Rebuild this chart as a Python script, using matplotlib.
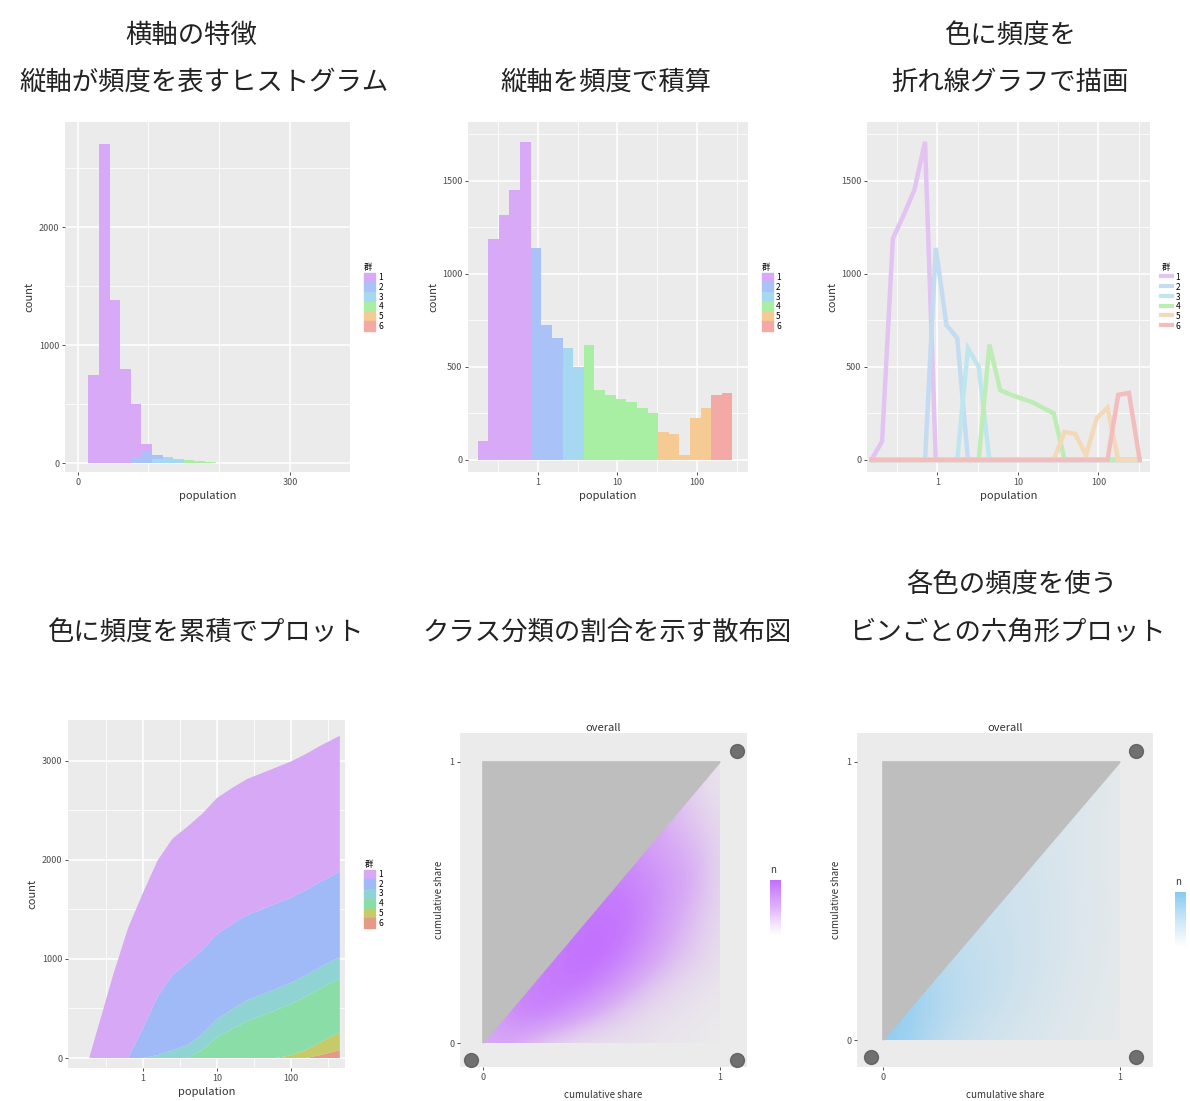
import matplotlib
matplotlib.use("Agg")
import matplotlib.pyplot as plt
import numpy as np
from matplotlib.patches import Patch, Rectangle
from matplotlib.lines import Line2D
from matplotlib.colors import LinearSegmentedColormap
from matplotlib.ticker import FixedLocator

plt.rcParams['font.family'] = ['Noto Sans CJK JP', 'DejaVu Sans']

W, H = 1190, 1101

# ---- data ----
groups = ["1", "2", "3", "4", "5", "6"]

# top-left: linear histogram, stacked by group
lin_edges = [15, 30, 45, 60, 75, 90, 105, 120, 135, 150, 165, 180, 195]
lin_purple = [750, 2700, 1380, 800, 450, 60, 0, 0, 0, 0, 0, 0]
lin_blue = [0, 0, 0, 0, 50, 100, 40, 0, 0, 0, 0, 0]
lin_cyan = [0, 0, 0, 0, 0, 0, 30, 55, 35, 0, 0, 0]
lin_green = [0, 0, 0, 0, 0, 0, 0, 0, 0, 25, 20, 10]
lin_orange = [0] * 12
lin_red = [0] * 12

# top-middle / top-right: log10 bins
log_start, log_width = -0.754, 0.1333
log_counts = [100, 1190, 1315, 1450, 1710, 1140, 725, 655, 600, 500, 620, 375,
              350, 330, 310, 280, 250, 150, 140, 25, 225, 280, 350, 360]
log_group = [0, 0, 0, 0, 0, 1, 1, 1, 2, 2, 3, 3,
             3, 3, 3, 3, 3, 4, 4, 4, 4, 4, 5, 5]

# bottom-left: cumulative counts, stacked
cum_x = [-0.72, -0.4, -0.2, 0, 0.2, 0.4, 0.6, 0.8, 1.0, 1.2, 1.4, 1.6, 1.8,
         2.0, 2.2, 2.4, 2.66]
cum_purple = [10, 840, 1310, 1365, 1375, 1375, 1375, 1375, 1375, 1375, 1375,
              1375, 1375, 1375, 1375, 1375, 1375]
cum_blue = [0, 0, 0, 300, 590, 760, 830, 850, 860, 860, 860, 860, 860, 860,
            860, 860, 860]
cum_cyan = [0, 0, 0, 0, 30, 80, 130, 160, 180, 200, 210, 215, 215, 215, 215,
            215, 215]
cum_green = [0, 0, 0, 0, 0, 0, 0, 80, 210, 290, 370, 425, 485, 515, 540, 545,
             545]
cum_orange = [0] * 13 + [30, 80, 130, 180]
cum_red = [0] * 15 + [30, 80]

# bottom-middle / bottom-right: point density on a 0..1 grid (rows = y)
dens_purple = [
    [0.5, 0.55, 0.35, 0.2, 0.12, 0.1, 0.1, 0.08, 0.05, 0.03, 0.0],
    [0.5, 0.75, 0.9, 0.8, 0.6, 0.4, 0.25, 0.15, 0.1, 0.06, 0.03],
    [0.5, 0.75, 0.85, 0.95, 0.95, 0.8, 0.55, 0.35, 0.2, 0.12, 0.06],
    [0.5, 0.75, 0.85, 0.9, 1.0, 1.0, 0.85, 0.6, 0.4, 0.25, 0.12],
    [0.5, 0.75, 0.85, 0.9, 0.95, 1.0, 0.95, 0.75, 0.5, 0.32, 0.15],
    [0.5, 0.75, 0.85, 0.9, 0.95, 0.9, 0.95, 0.8, 0.6, 0.4, 0.2],
    [0.5, 0.75, 0.85, 0.9, 0.95, 0.9, 0.8, 0.75, 0.6, 0.45, 0.2],
    [0.5, 0.75, 0.85, 0.9, 0.95, 0.9, 0.8, 0.6, 0.5, 0.4, 0.2],
    [0.5, 0.75, 0.85, 0.9, 0.95, 0.9, 0.8, 0.6, 0.4, 0.3, 0.15],
    [0.5, 0.75, 0.85, 0.9, 0.95, 0.9, 0.8, 0.6, 0.4, 0.2, 0.1],
    [0.5, 0.75, 0.85, 0.9, 0.95, 0.9, 0.8, 0.6, 0.4, 0.2, 0.05],
]
dens_blue = [
    [0.9, 0.8, 0.6, 0.45, 0.35, 0.28, 0.22, 0.18, 0.14, 0.1, 0.08],
    [0.9, 0.85, 0.7, 0.55, 0.45, 0.35, 0.28, 0.22, 0.16, 0.12, 0.08],
    [0.9, 0.85, 0.65, 0.55, 0.48, 0.4, 0.32, 0.25, 0.18, 0.13, 0.09],
    [0.9, 0.85, 0.65, 0.5, 0.45, 0.4, 0.33, 0.27, 0.2, 0.14, 0.1],
    [0.9, 0.85, 0.65, 0.5, 0.42, 0.38, 0.33, 0.27, 0.2, 0.15, 0.1],
    [0.9, 0.85, 0.65, 0.5, 0.42, 0.36, 0.32, 0.27, 0.2, 0.15, 0.1],
    [0.9, 0.85, 0.65, 0.5, 0.42, 0.36, 0.3, 0.26, 0.2, 0.14, 0.1],
    [0.9, 0.85, 0.65, 0.5, 0.42, 0.36, 0.3, 0.25, 0.2, 0.14, 0.1],
    [0.9, 0.85, 0.65, 0.5, 0.42, 0.36, 0.3, 0.25, 0.2, 0.14, 0.1],
    [0.9, 0.85, 0.65, 0.5, 0.42, 0.36, 0.3, 0.25, 0.2, 0.15, 0.1],
    [0.9, 0.85, 0.65, 0.5, 0.42, 0.36, 0.3, 0.25, 0.2, 0.15, 0.1],
]
unit = [0, 1]
corner_x = [1.07, -0.05, 1.07]
corner_y = [1.04, -0.06, -0.06]

bar_colors = ["#D7A9F6", "#A9C3F8", "#A6D8F2", "#A9EFA3", "#F5CB93", "#F3AAA6"]
area_colors = ["#D6A8F6", "#A0B9F7", "#8FD3D3", "#8ADDA6", "#C6CA68", "#E59A88"]
line_colors = ["#E2C3F2", "#C4DCF2", "#BFE6EE", "#BDEDB5", "#F4D9B8", "#F2BDBD"]


def box(x0, y0, x1, y1):
    return [x0 / W, 1 - y1 / H, (x1 - x0) / W, (y1 - y0) / H]


def gg(ax):
    ax.set_facecolor('#EBEBEB')
    for s in ax.spines.values():
        s.set_visible(False)
    ax.grid(True, which='major', color='white', lw=1.1)
    ax.grid(True, which='minor', color='white', lw=0.55)
    ax.set_axisbelow(True)
    ax.tick_params(which='major', length=2.5, width=0.6, color='#333333',
                   labelsize=6.5, labelcolor='#4D4D4D', pad=1.5)
    ax.tick_params(which='minor', length=0)


def key_legend(ax, handles, anchor=1.05):
    ax.legend(handles=handles, labels=groups, loc='center left',
              bbox_to_anchor=(anchor, 0.5), frameon=False, fontsize=6,
              title='群', title_fontsize=6, handlelength=1.3, handleheight=1.3,
              labelspacing=0.05, handletextpad=0.4, borderaxespad=0,
              borderpad=0, alignment='left')


def log_ticks(ax):
    ax.xaxis.set_major_locator(FixedLocator([0, 1, 2]))
    ax.set_xticklabels(["1", "10", "100"])
    ax.xaxis.set_minor_locator(FixedLocator([-0.5, 0.5, 1.5, 2.5]))


def title(x, y, s):
    fig.text(x / W, 1 - y / H, s, ha='center', va='center', fontsize=19,
             color='#222222')


fig = plt.figure(figsize=(W / 100, H / 100), dpi=100)

# ---- top-left: histogram, linear axis ----
ax1 = fig.add_axes(box(65, 122, 350, 472))
gg(ax1)
lin_series = [lin_purple, lin_blue, lin_cyan, lin_green, lin_orange, lin_red]
lefts = np.array(lin_edges[:-1])
bottom = np.zeros(len(lefts))
for g in reversed(range(6)):
    vals = np.array(lin_series[g])
    ax1.bar(lefts, vals, width=np.diff(lin_edges), bottom=bottom, align='edge',
            color=bar_colors[g], linewidth=0)
    bottom += vals
ax1.set_xlim(-18, 385)
ax1.set_ylim(-76, 2890)
ax1.xaxis.set_major_locator(FixedLocator([0, 300]))
ax1.xaxis.set_minor_locator(FixedLocator([100, 200]))
ax1.yaxis.set_major_locator(FixedLocator([0, 1000, 2000]))
ax1.yaxis.set_minor_locator(FixedLocator([500, 1500, 2500]))
ax1.set_xlabel("population", fontsize=8, color='#333333', labelpad=3)
ax1.set_ylabel("count", fontsize=8, color='#333333', labelpad=3)
key_legend(ax1, [Patch(color=c) for c in bar_colors])

# ---- top-middle: histogram, log axis ----
edges = log_start + log_width * np.arange(len(log_counts) + 1)
ax2 = fig.add_axes(box(468, 122, 748, 472))
gg(ax2)
ax2.bar(edges[:-1], log_counts, width=log_width, align='edge',
        color=[bar_colors[g] for g in log_group], linewidth=0)
ax2.set_xlim(-0.875, 2.64)
ax2.set_ylim(-65, 1817)
log_ticks(ax2)
ax2.yaxis.set_major_locator(FixedLocator([0, 500, 1000, 1500]))
ax2.yaxis.set_minor_locator(FixedLocator([250, 750, 1250, 1750]))
ax2.set_xlabel("population", fontsize=8, color='#333333', labelpad=3)
ax2.set_ylabel("count", fontsize=8, color='#333333', labelpad=3)
key_legend(ax2, [Patch(color=c) for c in bar_colors])

# ---- top-right: frequency polygons ----
ax3 = fig.add_axes(box(867, 122, 1150, 472))
gg(ax3)
centers = edges[:-1] + log_width / 2
xs = np.concatenate([[centers[0] - log_width], centers, [centers[-1] + log_width]])
counts = np.array(log_counts)
grp = np.array(log_group)
for g in range(6):
    ys = np.concatenate([[0], np.where(grp == g, counts, 0), [0]])
    ax3.plot(xs, ys, color=line_colors[g], lw=3.2, solid_joinstyle='miter')
ax3.set_xlim(-0.875, 2.64)
ax3.set_ylim(-65, 1817)
log_ticks(ax3)
ax3.yaxis.set_major_locator(FixedLocator([0, 500, 1000, 1500]))
ax3.yaxis.set_minor_locator(FixedLocator([250, 750, 1250, 1750]))
ax3.set_xlabel("population", fontsize=8, color='#333333', labelpad=3)
ax3.set_ylabel("count", fontsize=8, color='#333333', labelpad=3)
key_legend(ax3, [Line2D([], [], color=c, lw=3) for c in line_colors], 1.04)

# ---- bottom-left: stacked cumulative area ----
ax4 = fig.add_axes(box(68, 720, 345, 1068))
gg(ax4)
ax4.stackplot(cum_x, cum_red, cum_orange, cum_green, cum_cyan, cum_blue,
              cum_purple, colors=area_colors[::-1], linewidth=0)
ax4.set_xlim(-1.01, 2.73)
ax4.set_ylim(-101, 3414)
log_ticks(ax4)
ax4.yaxis.set_major_locator(FixedLocator([0, 1000, 2000, 3000]))
ax4.yaxis.set_minor_locator(FixedLocator([500, 1500, 2500]))
ax4.set_xlabel("population", fontsize=8, color='#333333', labelpad=3)
ax4.set_ylabel("count", fontsize=8, color='#333333', labelpad=3)
key_legend(ax4, [Patch(color=c) for c in area_colors], 1.07)


# ---- bottom-middle / bottom-right: density under the diagonal ----
def density_panel(rect, dens, cmap, xlim, ylim):
    ax = fig.add_axes(rect)
    ax.set_facecolor('#EBEBEB')
    for s in ax.spines.values():
        s.set_visible(False)
    n = len(dens)
    half = (unit[1] - unit[0]) / (n - 1) / 2
    im = ax.imshow(np.array(dens), origin='lower', cmap=cmap, vmin=0, vmax=1,
                   interpolation='bicubic', aspect='auto', zorder=1,
                   extent=[unit[0] - half, unit[1] + half,
                           unit[0] - half, unit[1] + half])
    im.set_clip_path(Rectangle((unit[0], unit[0]), unit[1] - unit[0],
                               unit[1] - unit[0], transform=ax.transData))
    ax.fill([unit[0], unit[0], unit[1]], [unit[0], unit[1], unit[1]],
            facecolor='#BEBEBE', edgecolor='#BEBEBE', lw=1.2, zorder=2)
    ax.plot(corner_x, corner_y, 'o', ms=10, color='#5A5A5A', alpha=0.85,
            clip_on=False, zorder=3)
    ax.set_xlim(*xlim)
    ax.set_ylim(*ylim)
    ax.set_xticks(unit)
    ax.set_yticks(unit)
    ax.set_xticklabels(["0", "1"])
    ax.set_yticklabels(["0", "1"])
    ax.tick_params(length=2.5, width=0.6, color='#333333', labelsize=6.5,
                   labelcolor='#4D4D4D', pad=1.5)
    ax.set_xlabel("cumulative share", fontsize=7, color='#333333', labelpad=6)
    ax.set_ylabel("cumulative share", fontsize=7, color='#333333', labelpad=4)
    ax.set_title("overall", fontsize=8, color='#333333', pad=-2)
    return ax


cm_purple = LinearSegmentedColormap.from_list(
    "p", [(0.84, 0.62, 0.96, 0.0), (0.80, 0.50, 0.99, 0.6), (0.76, 0.44, 1.0, 1.0)])
cm_blue = LinearSegmentedColormap.from_list(
    "b", [(0.62, 0.83, 0.95, 0.0), (0.50, 0.78, 0.95, 0.95)])

density_panel(box(460, 733, 747, 1067), dens_purple, cm_purple,
              (-0.097, 1.114), (-0.085, 1.103))
density_panel(box(857, 733, 1153, 1067), dens_blue, cm_blue,
              (-0.11, 1.14), (-0.097, 1.104))

for (x0, y0, x1, y1), cm in [((770, 880, 781, 936), cm_purple),
                             ((1175, 892, 1186, 948), cm_blue)]:
    cax = fig.add_axes(box(x0, y0, x1, y1))
    cax.imshow(np.linspace(0, 1, 64)[:, None], cmap=cm, aspect='auto',
               origin='lower')
    cax.set_xticks([])
    cax.set_yticks([])
    for s in cax.spines.values():
        s.set_visible(False)
    fig.text(x0 / W, 1 - (y0 - 10) / H, "n", fontsize=7, color='#333333',
             ha='left', va='center')

# ---- titles ----
title(191, 35, "横軸の特徴")
title(204, 82, "縦軸が頻度を表すヒストグラム")
title(606, 82, "縦軸を頻度で積算")
title(1010, 35, "色に頻度を")
title(1010, 82, "折れ線グラフで描画")
title(205, 632, "色に頻度を累積でプロット")
title(607, 632, "クラス分類の割合を示す散布図")
title(1012, 585, "各色の頻度を使う")
title(1007, 632, "ビンごとの六角形プロット")

fig.savefig("out.png", dpi=100)
